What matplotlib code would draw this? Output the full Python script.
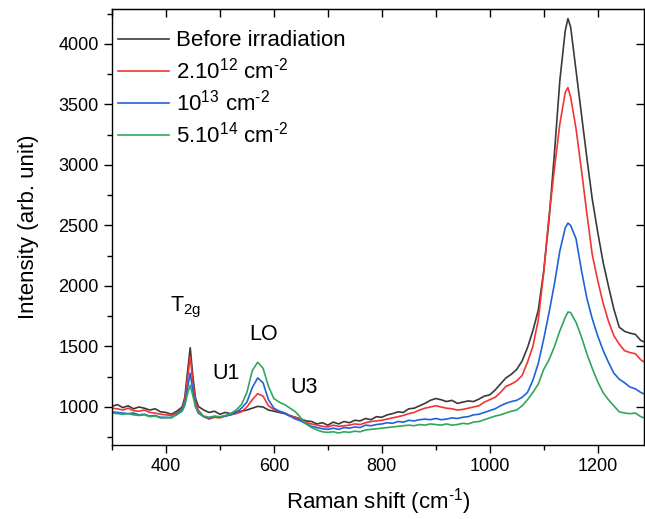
#=======================================================================
# Raman spectra before / after irradiation
#=======================================================================

import matplotlib.pyplot as plt
from matplotlib.ticker import MultipleLocator

plt.rcParams['font.family'] = ['Liberation Sans', 'DejaVu Sans']
plt.rcParams['mathtext.fontset'] = 'custom'
plt.rcParams['mathtext.rm'] = 'Liberation Sans'
plt.rcParams['mathtext.it'] = 'Liberation Sans:italic'
plt.rcParams['mathtext.default'] = 'regular'

#=======================================================================
# Data
#=======================================================================

shift = [300, 310, 320, 330, 340, 350, 360, 370, 380, 390, 400, 410, 420, 430,
         435, 440, 445, 450, 455,
         460, 470, 480, 490, 500, 510, 520, 530, 540, 550, 560, 570, 580, 590,
         600, 610, 620, 630, 640, 650, 660, 670, 680, 690, 700, 710, 720, 730,
         740, 750, 760, 770, 780, 790, 800, 810, 820, 830, 840, 850, 860, 870,
         880, 890, 900, 910, 920, 930, 940, 950, 960, 970, 980, 990, 1000, 1010,
         1020, 1030, 1040, 1050, 1060, 1070, 1080, 1090, 1100, 1110, 1120, 1130,
         1140, 1145, 1150, 1160, 1170, 1180, 1190, 1200, 1210, 1220, 1230, 1240,
         1250, 1260, 1270, 1280, 1290]

before = [1005, 1020, 995, 1010, 985, 1000, 990, 975, 985, 960, 955, 940, 965, 1000,
          1080, 1290, 1490, 1250, 1070,
          1005, 975, 955, 965, 940, 955, 945, 960, 965, 975, 990, 1005, 1000, 975,
          965, 955, 945, 925, 915, 900, 885, 880, 860, 870, 850, 875, 860, 880,
          870, 890, 885, 905, 895, 920, 915, 935, 945, 960, 955, 985, 990, 1010,
          1030, 1055, 1070, 1060, 1045, 1055, 1030, 1040, 1050, 1045, 1065, 1090, 1100, 1140,
          1190, 1240, 1270, 1310, 1380, 1490, 1630, 1800, 2120, 2550, 3100, 3700,
          4110, 4210, 4140, 3780, 3420, 3060, 2720, 2450, 2200, 2000, 1810, 1660,
          1625, 1610, 1600, 1550, 1530]

dose_2e12 = [990, 985, 975, 990, 970, 965, 975, 955, 950, 940, 935, 930, 950, 985,
             1060, 1230, 1420, 1200, 1040,
             975, 920, 900, 915, 910, 925, 935, 945, 960, 1000, 1060, 1110, 1090, 1010,
             980, 965, 950, 930, 915, 895, 870, 860, 850, 840, 835, 850, 840, 845,
             850, 860, 855, 870, 880, 885, 890, 900, 910, 920, 930, 945, 955, 975,
             990, 1000, 1010, 1000, 990, 985, 975, 980, 990, 1000, 1010, 1040, 1060, 1080,
             1120, 1170, 1190, 1215, 1260, 1370, 1500, 1720, 2110, 2580, 2970, 3340,
             3600, 3640, 3560, 3300, 2960, 2600, 2260, 2050, 1860, 1710, 1590, 1520,
             1465, 1450, 1440, 1390, 1360]

dose_1e13 = [960, 955, 950, 945, 950, 935, 940, 925, 930, 915, 915, 910, 940, 975,
             1030, 1160, 1280, 1130, 1000,
             950, 920, 910, 920, 915, 925, 935, 955, 990, 1040, 1160, 1240, 1200, 1060,
             990, 965, 950, 925, 900, 885, 860, 840, 830, 820, 815, 825, 815, 830,
             825, 835, 830, 850, 845, 855, 860, 870, 865, 880, 875, 890, 885, 895,
             900, 895, 905, 895, 900, 910, 905, 915, 920, 935, 940, 955, 970, 985,
             1010, 1030, 1045, 1055, 1080, 1120, 1220, 1360, 1560, 1780, 2020, 2290,
             2480, 2520, 2500, 2390, 2130, 1900, 1730, 1590, 1470, 1370, 1280, 1230,
             1200, 1165, 1150, 1120, 1100]

dose_5e14 = [950, 945, 940, 945, 935, 930, 935, 920, 925, 910, 910, 915, 935, 965,
             1010, 1110, 1180, 1090, 1000,
             960, 925, 915, 925, 920, 930, 945, 975, 1020, 1120, 1300, 1370, 1320, 1170,
             1070, 1040, 1020, 990, 960, 910, 860, 830, 810, 795, 790, 795, 785, 795,
             790, 800, 795, 810, 815, 820, 825, 830, 835, 840, 845, 850, 845, 855,
             850, 860, 855, 850, 860, 850, 855, 865, 860, 875, 880, 895, 910, 925,
             935, 950, 965, 975, 1010, 1060, 1120, 1190, 1310, 1390, 1500, 1630,
             1740, 1785, 1780, 1700, 1580, 1440, 1320, 1210, 1120, 1060, 1010, 960,
             950, 945, 950, 920, 905]

labels = ['Before irradiation', '2.10$^{12}$ cm$^{\u20102}$',
          '10$^{13}$ cm$^{\u20102}$', '5.10$^{14}$ cm$^{\u20102}$']
colors = ['#3a3a3a', '#f03535', '#1f62dc', '#2fa75c']

# peak labels: text, x, y
peaks = [('T$_{2g}$', 437, 1820), ('U1', 511, 1280),
         ('LO', 581, 1595), ('U3', 656, 1157)]

#=======================================================================
# Plot
#=======================================================================

fig = plt.figure(figsize=(6.45, 5.19), dpi=100)
ax = fig.add_axes([0.1736, 0.1426, 0.8249, 0.8410])

for ys, lab, c in zip([before, dose_2e12, dose_1e13, dose_5e14], labels, colors):
    ax.plot(shift, ys, color=c, lw=1.2, label=lab)

for txt, px, py in peaks:
    ax.text(px, py, txt, fontsize=15.5, ha='center', va='center')

ax.set_xlim(300, 1286)
ax.set_ylim(686, 4293)
ax.xaxis.set_major_locator(MultipleLocator(200))
ax.xaxis.set_minor_locator(MultipleLocator(100))
ax.yaxis.set_major_locator(MultipleLocator(500))
ax.yaxis.set_minor_locator(MultipleLocator(250))
ax.tick_params(which='major', direction='out', length=6, width=1.0, labelsize=13)
ax.tick_params(which='minor', direction='out', length=3.5, width=1.0)

# mirrored ticks on top and right, pointing inwards
top = ax.secondary_xaxis('top')
top.xaxis.set_major_locator(MultipleLocator(100))
top.tick_params(direction='in', length=6, width=1.0, labeltop=False)
right = ax.secondary_yaxis('right')
right.yaxis.set_major_locator(MultipleLocator(500))
right.tick_params(direction='in', length=6, width=1.0, labelright=False)

for s in ax.spines.values():
    s.set_linewidth(1.0)

ax.set_xlabel('Raman shift (cm$^{\u20101}$)', fontsize=16, labelpad=8)
ax.set_ylabel('Intensity (arb. unit)', fontsize=16, labelpad=14)

ax.legend(loc='upper left', bbox_to_anchor=(0.011, 0.95), frameon=False,
          fontsize=16, handlelength=2.3, handletextpad=0.3, labelspacing=0.28,
          borderpad=0, borderaxespad=0)

fig.savefig('out.png', dpi=100)
